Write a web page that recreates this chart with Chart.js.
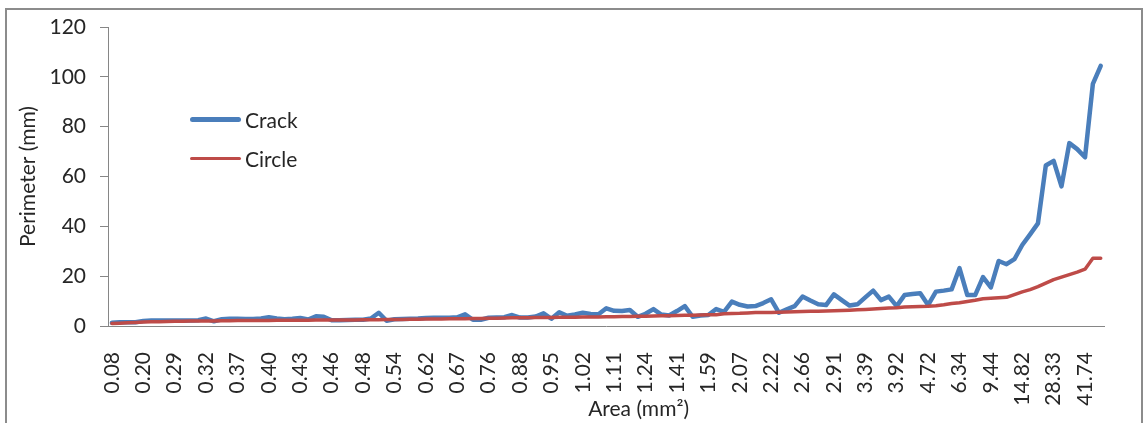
<!DOCTYPE html>
<html>
<head>
<meta charset="utf-8">
<title>Crack vs circle perimeter</title>
<script src="https://cdn.jsdelivr.net/npm/chart.js@4.4.1/dist/chart.umd.min.js"></script>
<style>
body { margin:0; background:#fff; }
#wrap { position:relative; width:1144px; height:423px; overflow:hidden; }
#frame { position:absolute; left:5px; top:8px; width:1138px; height:440px; border:2px solid #8c8c8c; box-sizing:border-box; }
#myChart { position:absolute; left:0; top:0; }
#legend { position:absolute; left:190px; top:100px; font-family:Lato; font-size:21px; color:#262626; }
.item { display:flex; align-items:center; height:39px; }
.swatch { width:51px; border-radius:3px; margin-right:4px; }
</style>
</head>
<body>
<div id="wrap">
  <div id="frame"></div>
  <canvas id="myChart" width="1144" height="423"></canvas>
  <div id="legend">
    <div class="item"><span class="swatch" style="height:4.5px;background:#4a7ebb"></span>Crack</div>
    <div class="item"><span class="swatch" style="height:3.5px;background:#be4b48"></span>Circle</div>
  </div>
</div>
<script>
// area labels that are printed (every 4th category)
var shownAreas = ['0.08','0.20','0.29','0.32','0.37','0.40','0.43','0.46','0.48','0.54',
  '0.62','0.67','0.76','0.88','0.95','1.02','1.11','1.24','1.41','1.59',
  '2.07','2.22','2.66','2.91','3.39','3.92','4.72','6.34','9.44','14.82',
  '28.33','41.74'];

// perimeter of the crack (mm)
var crack = [1.3, 1.5, 1.5, 1.5, 2.0, 2.2, 2.2, 2.2, 2.2, 2.2,
  2.2, 2.3, 3.0, 1.9, 2.7, 2.9, 2.9, 2.8, 2.8, 3.0,
  3.5, 3.0, 2.7, 2.9, 3.2, 2.6, 3.9, 3.7, 2.3, 2.3,
  2.4, 2.5, 2.5, 3.0, 5.3, 2.1, 2.7, 2.8, 2.9, 3.0,
  3.2, 3.3, 3.3, 3.3, 3.5, 4.7, 2.5, 2.5, 3.3, 3.4,
  3.5, 4.4, 3.4, 3.4, 3.8, 5.1, 2.9, 5.5, 4.1, 4.6,
  5.3, 4.8, 4.7, 7.1, 6.1, 6.0, 6.4, 3.7, 4.9, 6.8,
  4.6, 4.2, 6.0, 8.0, 3.7, 4.2, 4.4, 6.8, 5.7, 9.8,
  8.5, 7.8, 8.0, 9.2, 10.7, 5.3, 6.7, 8.0, 11.8, 10.2,
  8.7, 8.4, 12.7, 10.4, 8.2, 8.7, 11.5, 14.2, 10.4, 11.8,
  8.0, 12.4, 12.8, 13.1, 8.4, 13.8, 14.2, 14.7, 23.2, 12.4,
  12.4, 19.6, 15.5, 26.1, 24.8, 26.8, 32.5, 36.8, 41.2, 64.4,
  66.3, 56.0, 73.4, 71.0, 67.7, 97.2, 104.4];

// perimeter of a circle with the same area (mm)
var circle = [1.00, 1.15, 1.30, 1.45, 1.59, 1.67, 1.75, 1.83, 1.91, 1.94,
  1.96, 1.99, 2.01, 2.05, 2.09, 2.12, 2.16, 2.18, 2.20, 2.22,
  2.24, 2.26, 2.28, 2.30, 2.32, 2.34, 2.36, 2.38, 2.40, 2.42,
  2.43, 2.45, 2.46, 2.49, 2.53, 2.56, 2.60, 2.65, 2.70, 2.74,
  2.79, 2.82, 2.85, 2.87, 2.90, 2.95, 3.00, 3.04, 3.09, 3.15,
  3.21, 3.27, 3.33, 3.36, 3.40, 3.43, 3.46, 3.49, 3.52, 3.55,
  3.58, 3.62, 3.66, 3.69, 3.73, 3.79, 3.84, 3.90, 3.95, 4.02,
  4.08, 4.15, 4.21, 4.28, 4.34, 4.41, 4.47, 4.55, 4.95, 5.03,
  5.10, 5.25, 5.40, 5.42, 5.45, 5.55, 5.65, 5.72, 5.80, 5.87,
  5.93, 6.00, 6.08, 6.20, 6.35, 6.50, 6.62, 6.80, 7.00, 7.20,
  7.35, 7.60, 7.70, 7.80, 7.90, 8.10, 8.50, 9.00, 9.30, 9.80,
  10.3, 10.9, 11.1, 11.3, 11.5, 12.6, 13.7, 14.6, 15.8, 17.2,
  18.6, 19.6, 20.6, 21.6, 22.8, 27.2, 27.2];

var yTicks = [0, 20, 40, 60, 80, 100, 120];

var labels = [];
for (var i = 0; i < crack.length; i++) {
  labels.push(i % 4 === 0 ? shownAreas[i / 4] : '');
}

var textColor = '#262626';
var axisColor = '#868686';
var font = {family: 'Lato', size: 21};

new Chart(document.getElementById('myChart'), {
  type: 'line',
  data: {
    labels: labels,
    datasets: [
      {label: 'Crack', data: crack, borderColor: '#4a7ebb', borderWidth: 4.5,
       pointRadius: 0, order: 1, borderCapStyle: 'round', borderJoinStyle: 'round'},
      {label: 'Circle', data: circle, borderColor: '#be4b48', borderWidth: 3.5,
       pointRadius: 0, order: 0, borderCapStyle: 'round', borderJoinStyle: 'round'}
    ]
  },
  options: {
    responsive: false,
    animation: false,
    devicePixelRatio: 1,
    layout: {padding: {left: 0, top: 27, right: 18, bottom: 0}},
    plugins: {legend: {display: false}, tooltip: {enabled: false}},
    scales: {
      x: {
        offset: true,
        grid: {display: false},
        border: {color: axisColor, width: 1},
        ticks: {autoSkip: false, minRotation: 90, maxRotation: 90, padding: 18,
                color: textColor, font: font},
        title: {display: true, text: '            Area (mm²)', color: textColor, font: font,
                padding: {top: 0, bottom: 1}},
        afterFit: function(s) { s.height = 97; }
      },
      y: {
        min: 0, max: 120,
        afterBuildTicks: function(s) { s.ticks = yTicks.map(function(v) { return {value: v}; }); },
        grid: {drawOnChartArea: false, tickLength: 8, tickColor: axisColor},
        border: {color: axisColor, width: 1},
        ticks: {padding: 14, color: textColor, font: font},
        title: {display: true, text: 'Perimeter (mm)', color: textColor, font: font,
                padding: {top: 16, bottom: 0}},
        afterFit: function(s) { s.width = 108; }
      }
    }
  }
});
</script>
</body>
</html>
